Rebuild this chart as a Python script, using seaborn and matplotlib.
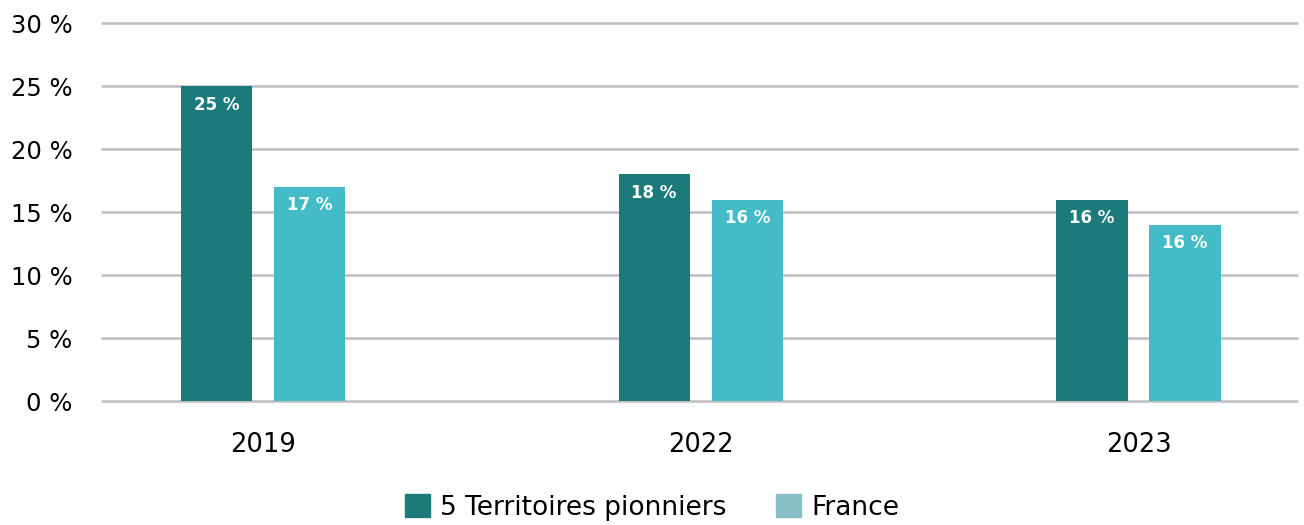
import pandas as pd
import matplotlib
matplotlib.use("Agg")
import matplotlib.pyplot as plt
import seaborn as sns

# Data
years = ["2019", "2022", "2023"]
territoires = [25, 18, 16]
france = [17, 16, 14]
territoires_labels = ["25 %", "18 %", "16 %"]
france_labels = ["17 %", "16 %", "16 %"]
series_names = ["5 Territoires pionniers", "France"]

df = pd.DataFrame({
    "Année": years * 2,
    "Valeur": territoires + france,
    "Série": [series_names[0]] * 3 + [series_names[1]] * 3,
})

sns.set_theme(style="white")
plt.rcParams["font.family"] = ["DejaVu Sans"]
plt.rcParams["text.color"] = "black"

dark = "#1c7a7a"
light = "#43bcc7"
legend_light = "#89c0c8"

fig = plt.figure(figsize=(13.04, 5.25), dpi=100)
ax = fig.add_axes([0.078, 0.236, 0.917, 0.72])

sns.barplot(data=df, x="Année", y="Valeur", hue="Série",
            palette=[dark, light], width=0.425, gap=0.235,
            saturation=1, linewidth=0, ax=ax, legend=False, zorder=3)

# bar labels
for container, labels in zip(ax.containers, [territoires_labels, france_labels]):
    for bar, lab in zip(container, labels):
        ax.text(bar.get_x() + bar.get_width() / 2, bar.get_height() - 0.75, lab,
                ha="center", va="top", color="white", fontsize=12,
                fontweight="bold", zorder=4)

ax.set_ylim(0, 30)
ax.set_xlim(-0.368, 2.363)
ax.set_yticks(range(0, 31, 5))
ax.set_yticklabels([f"{v} %" for v in range(0, 31, 5)])
ax.yaxis.grid(True, color="#bdbdc2", linewidth=1.8, zorder=0)
for gl in ax.get_ygridlines():
    gl.set_clip_on(False)
ax.set_axisbelow(True)
for s in ax.spines.values():
    s.set_visible(False)
ax.tick_params(axis="y", length=0, labelsize=17.5, pad=21, colors="black")
ax.tick_params(axis="x", length=0, labelsize=18.5, pad=22, colors="black")
ax.set_xlabel("")
ax.set_ylabel("")

handles = [plt.Rectangle((0, 0), 1, 1, color=dark),
           plt.Rectangle((0, 0), 1, 1, color=legend_light)]
leg = fig.legend(handles, series_names, loc="center", bbox_to_anchor=(0.5, 0.033),
                 ncol=2, frameon=False, fontsize=19, handlelength=0.95,
                 handleheight=0.95, handletextpad=0.4, columnspacing=1.85)
for t in leg.get_texts():
    t.set_color("black")

fig.savefig("out.png", dpi=100)
plt.close(fig)
